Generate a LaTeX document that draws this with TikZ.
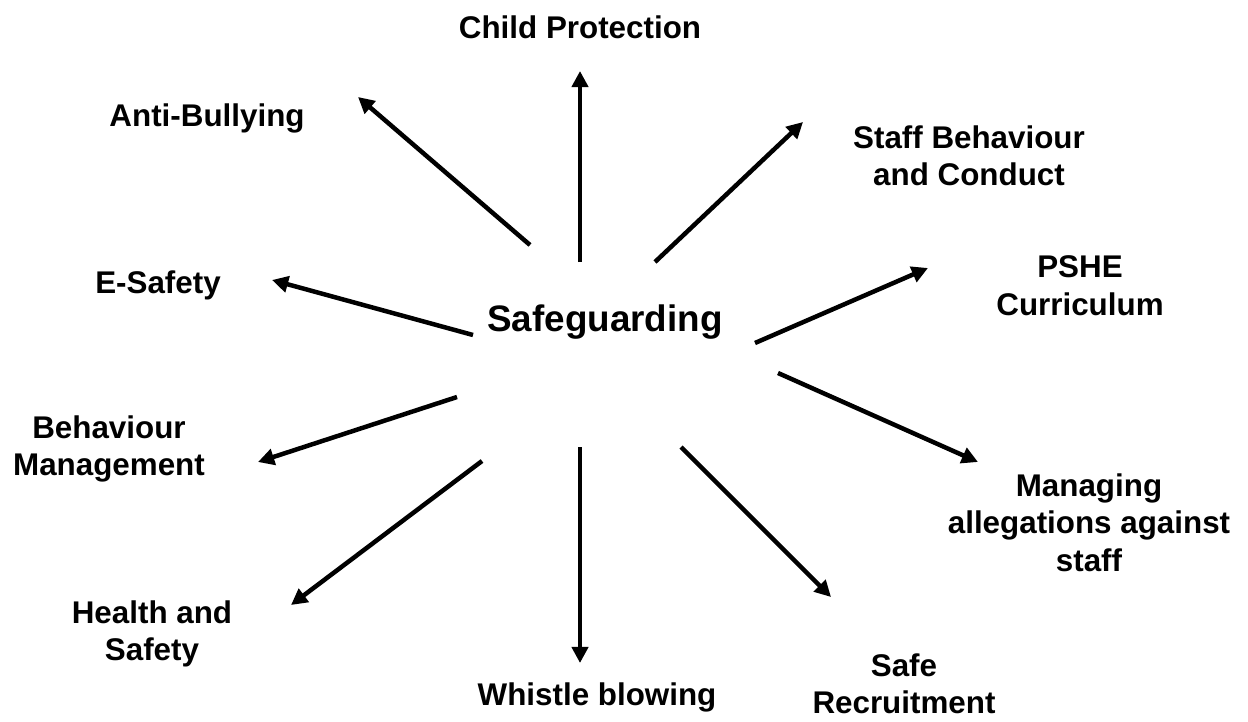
\documentclass[tikz,border=0pt]{standalone}
\usepackage{fontspec}
\setmainfont{Liberation Sans}
\usetikzlibrary{arrows.meta}

\begin{document}
\begin{tikzpicture}[x=0.025cm,y=-0.025cm,
		topic/.style={anchor=north,inner sep=0pt,align=center,
				font=\fontsize{22.3}{27}\selectfont\bfseries},
		hub/.style={anchor=north,inner sep=0pt,
				font=\fontsize{26.2}{31}\selectfont\bfseries},
		link/.style={line width=3.2pt,-{Triangle[length=11.5pt,width=11.5pt]}},
	]
	\useasboundingbox (0,0) rectangle (1248,722);
	\clip (0,0) rectangle (1248,722);
	% centre
	\node[hub] (sg) at (605,305) {Safeguarding};
	% topics
	\node[topic] (cp) at (580,15) {Child Protection};
	\node[topic] (ab) at (207,103) {Anti-Bullying};
	\node[topic] (sb) at (969,125) {Staff Behaviour\\and Conduct};
	\node[topic] (es) at (158,270) {E-Safety};
	\node[topic] (ps) at (1080,255) {PSHE\\Curriculum};
	\node[topic] (bm) at (109,415) {Behaviour\\Management};
	\node[topic] (ma) at (1089,473) {Managing\\allegations against\\staff};
	\node[topic] (hs) at (152,600) {Health and\\Safety};
	\node[topic] (wb) at (597,682) {Whistle blowing};
	\node[topic] (sr) at (904,653) {Safe\\Recruitment};
	% arrow ends
	\coordinate (cp0) at (580,262); \coordinate (cp1) at (580,71);
	\coordinate (ab0) at (530,245); \coordinate (ab1) at (358,97);
	\coordinate (sb0) at (655,262); \coordinate (sb1) at (803,122);
	\coordinate (es0) at (473,335); \coordinate (es1) at (272,280);
	\coordinate (ps0) at (755,343); \coordinate (ps1) at (928,268);
	\coordinate (bm0) at (457,397); \coordinate (bm1) at (258,462);
	\coordinate (ma0) at (778,373); \coordinate (ma1) at (978,462);
	\coordinate (hs0) at (482,461); \coordinate (hs1) at (291,605);
	\coordinate (wb0) at (580,447); \coordinate (wb1) at (580,663);
	\coordinate (sr0) at (681,447); \coordinate (sr1) at (831,597);
	%
	\foreach \t in {cp,ab,sb,es,ps,bm,ma,hs,wb,sr}
		\draw[link] (\t0) -- (\t1);
\end{tikzpicture}
\end{document}
